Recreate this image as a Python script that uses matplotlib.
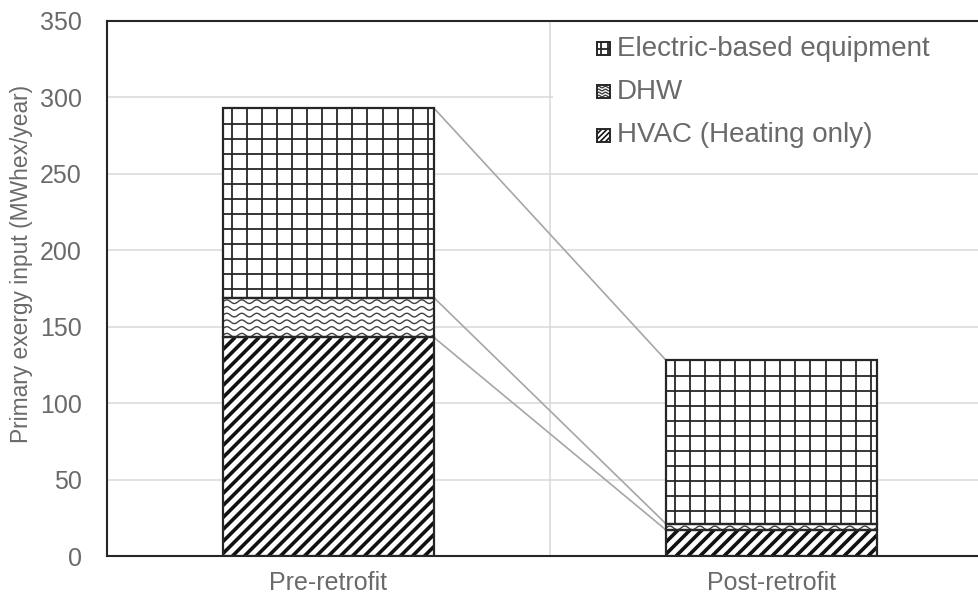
import numpy as np
import matplotlib
matplotlib.use('Agg')
import matplotlib.pyplot as plt
from matplotlib.collections import LineCollection
from matplotlib.patches import Rectangle
from matplotlib.transforms import IdentityTransform

# data (MWhex/year)
categories = ['Pre-retrofit', 'Post-retrofit']
hvac = [143, 17]
dhw = [26, 4]
electric = [124, 107]
series_names = ['Electric-based equipment', 'DHW', 'HVAC (Heating only)']
y_ticks = [0, 50, 100, 150, 200, 250, 300, 350]

plt.rcParams['font.family'] = ['Liberation Sans', 'DejaVu Sans']
grey_txt = '#6a6a6a'
dark = '#262626'

fig = plt.figure(figsize=(9.79, 5.99), dpi=100)
ax = fig.add_axes([107 / 979, 43 / 599, 886 / 979, 535 / 599])
ax.set_xlim(-0.5, 1.5)
ax.set_ylim(0, 350)


# ---- pattern helpers (pixel space, clipped to a patch) ----
def grid_segs(bb, sx, sy, ox, oy):
    x0, y0, x1, y1 = bb.x0, bb.y0, bb.x1, bb.y1
    segs = []
    xv = x0 + ox
    while xv < x1:
        segs.append([(xv, y0), (xv, y1)])
        xv += sx
    yv = y1 - oy
    while yv > y0:
        segs.append([(x0, yv), (x1, yv)])
        yv -= sy
    return segs


def diag_segs(bb, step):
    x0, y0, x1, y1 = bb.x0, bb.y0, bb.x1, bb.y1
    h = y1 - y0
    segs = []
    c = x0 - h - step
    while c < x1 + step:
        segs.append([(c, y0), (c + h, y1)])
        c += step
    return segs


def wave_segs(bb, period, amp, spacing):
    x0, y0, x1, y1 = bb.x0, bb.y0, bb.x1, bb.y1
    xs = np.arange(x0 - 2, x1 + 2, 0.5)
    segs = []
    yc = y1 - spacing * 0.6
    while yc > y0 - amp:
        ys = yc + amp * np.sin(2 * np.pi * (xs - x0) / period)
        segs.append(np.column_stack([xs, ys]))
        yc -= spacing
    return segs


def fill_pattern(patch, kind, scale=1.0):
    bb = patch.get_window_extent()
    if kind == 'grid':
        segs = grid_segs(bb, 15.1 * scale, 15.0 * scale, 8.5 * scale, 16 * scale)
        lc = LineCollection(segs, colors=dark, linewidths=1.3)
    elif kind == 'wave':
        segs = wave_segs(bb, 15.0 * scale, 1.8 * scale, 6.7 * scale)
        lc = LineCollection(segs, colors='#404040', linewidths=1.0)
    else:
        segs = diag_segs(bb, 12.0 * scale)
        lc = LineCollection(segs, colors='#111111', linewidths=2.6 * scale)
    lc.set_transform(IdentityTransform())
    lc.set_zorder(patch.get_zorder() + 0.1)
    ax.add_collection(lc, autolim=False)
    lc.set_clip_path(patch)


# ---- grid ----
ax.set_axisbelow(True)
ax.set_yticks(y_ticks)
ax.yaxis.grid(True, color='#d9d9d9', linewidth=1.1)
ax.set_xticks(np.arange(len(categories)))
ax.set_xticklabels(categories)
ax.set_xticks([0.5], minor=True)
ax.xaxis.grid(True, which='minor', color='#d9d9d9', linewidth=1.1)

# ---- legend background (hides grid behind it) ----
ax.add_patch(Rectangle(((553 - 107) / 886, (556 - 160) / 535), 0.6, 0.4,
                       transform=ax.transAxes, facecolor='white',
                       edgecolor='none', zorder=1))

# ---- stacked bars ----
x = np.arange(len(categories))
w = 0.476
b_dhw = np.array(hvac)
b_el = b_dhw + np.array(dhw)
tops = b_el + np.array(electric)

stack = [(hvac, 0, 'diag'), (dhw, b_dhw, 'wave'), (electric, b_el, 'grid')]
for vals, bot, kind in stack:
    bars = ax.bar(x, vals, w, bottom=bot, color='white', edgecolor='none', zorder=2)
    for p in bars:
        fill_pattern(p, kind)
    ax.bar(x, vals, w, bottom=bot, fill=False, edgecolor=dark, linewidth=1.6, zorder=3)

# series lines between the two bars
for lvl in [b_dhw, b_el, tops]:
    ax.plot([x[0] + w / 2, x[1] - w / 2], [lvl[0], lvl[1]], color='#a6a6a6',
            linewidth=1.2, zorder=1.5)

# ---- axes styling ----
for s in ['left', 'top', 'bottom', 'right']:
    ax.spines[s].set_color(dark)
    ax.spines[s].set_linewidth(1.5)
ax.tick_params(axis='both', which='both', length=0, labelcolor=grey_txt, labelsize=18)
ax.tick_params(axis='y', pad=18)
ax.tick_params(axis='x', pad=11)

fig.text(22 / 979, 1 - 264 / 599, 'Primary exergy input (MWhex/year)', rotation=90,
         ha='center', va='center', fontsize=16.4, color=grey_txt)

# ---- legend (manual) ----
kinds = ['grid', 'wave', 'diag']
row_y = [48.7, 91.7, 135.0]
for name, kind, ry in zip(series_names, kinds, row_y):
    sq = Rectangle(((597 - 107) / 886, (556 - ry - 6.5) / 535), 13 / 886, 13 / 535,
                   transform=ax.transAxes, facecolor='white', edgecolor='none', zorder=4)
    ax.add_patch(sq)
    fill_pattern(sq, kind, scale=0.45)
    ax.add_patch(Rectangle(((597 - 107) / 886, (556 - ry - 6.5) / 535), 13 / 886, 13 / 535,
                           transform=ax.transAxes, fill=False, edgecolor=dark,
                           linewidth=1.4, zorder=5))
    ax.text((617 - 107) / 886, (556 - ry) / 535, name, transform=ax.transAxes,
            ha='left', va='center', fontsize=20, color=grey_txt, zorder=5)

fig.savefig('out.png', dpi=100)
